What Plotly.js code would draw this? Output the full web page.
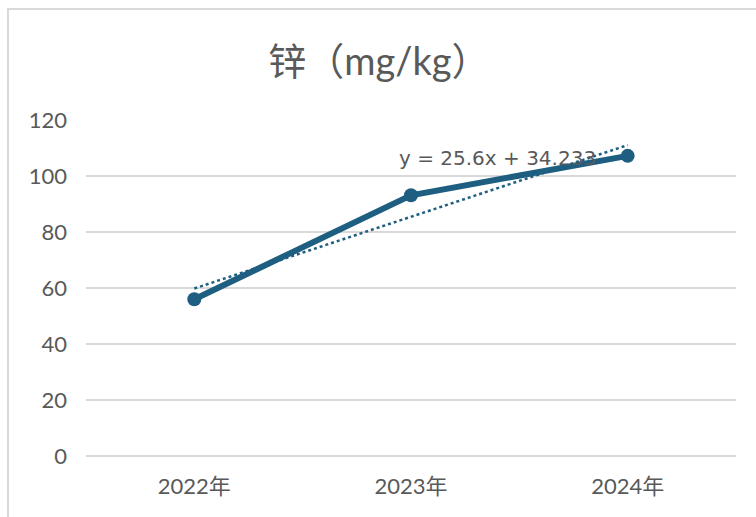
<!DOCTYPE html>
<html>
<head>
<meta charset="utf-8">
<script src="https://cdn.plot.ly/plotly-3.0.1.min.js"></script>
<style>html,body{margin:0;padding:0;background:#fff;}#chart{width:756px;height:517px;}</style>
</head>
<body>
<div id="chart"></div>
<script>
const categories = ["2022年", "2023年", "2024年"];
const values = [56.0, 93.1, 107.2];
const trendSlope = 25.6;
const trendIntercept = 34.233;
const trendLabel = "y = 25.6x + 34.233";
const titleText = "锌（mg/kg）";

const lineColor = "#1E5E80";
const textColor = "#595959";
const fontFam = "Lato, Noto Sans CJK SC, sans-serif";

// trendline evaluated at category positions 1..n
const trendY = categories.map((c, i) => trendSlope * (i + 1) + trendIntercept);

const traces = [
  {
    x: categories, y: trendY, type: "scatter", mode: "lines",
    line: {color: lineColor, width: 2.5, dash: "dot"}, hoverinfo: "skip", showlegend: false
  },
  {
    x: categories, y: values, type: "scatter", mode: "lines+markers",
    line: {color: lineColor, width: 6}, marker: {color: lineColor, size: 14},
    showlegend: false
  }
];

const L = 86, R = 20, T = 120, B = 61, W = 756, H = 517;
const pw = W - L - R, ph = H - T - B;

const layout = {
  width: W, height: H,
  margin: {l: L, r: R, t: T, b: B},
  paper_bgcolor: "#fff", plot_bgcolor: "#fff",
  font: {family: fontFam, color: textColor},
  title: {text: titleText, font: {size: 38, color: textColor, family: fontFam},
          x: 379 / W, xanchor: "center", y: 1 - 62 / H, yanchor: "middle"},
  xaxis: {
    type: "category", showgrid: false, zeroline: false, showline: false,
    ticks: "outside", ticklen: 11, tickcolor: "rgba(0,0,0,0)",
    tickfont: {size: 22, color: textColor, family: fontFam},
    range: [-0.5, 2.5]
  },
  yaxis: {
    range: [0, 120], dtick: 20, tick0: 0,
    showgrid: true, gridcolor: "#d9d9d9", gridwidth: 1.5,
    zeroline: true, zerolinecolor: "#d9d9d9", zerolinewidth: 1.5,
    showline: false, ticks: "", ticklabelstandoff: 18,
    tickfont: {size: 22, color: textColor, family: fontFam}
  },
  annotations: [{
    text: trendLabel, xref: "x", yref: "y", x: 1.4, y: 106.3,
    showarrow: false, xanchor: "center", yanchor: "middle",
    font: {size: 20, color: textColor, family: "DejaVu Sans, sans-serif"}
  }],
  shapes: [{
    type: "rect", xref: "paper", yref: "paper", layer: "below",
    x0: (8 - L) / pw, x1: (W + 20 - L) / pw,
    y0: -(H + 20 - T - ph) / ph, y1: (T + ph - 9) / ph,
    line: {color: "#d9d9d9", width: 2}, fillcolor: "rgba(0,0,0,0)"
  }]
};

Plotly.newPlot("chart", traces, layout, {displayModeBar: false, staticPlot: true});
</script>
</body>
</html>
